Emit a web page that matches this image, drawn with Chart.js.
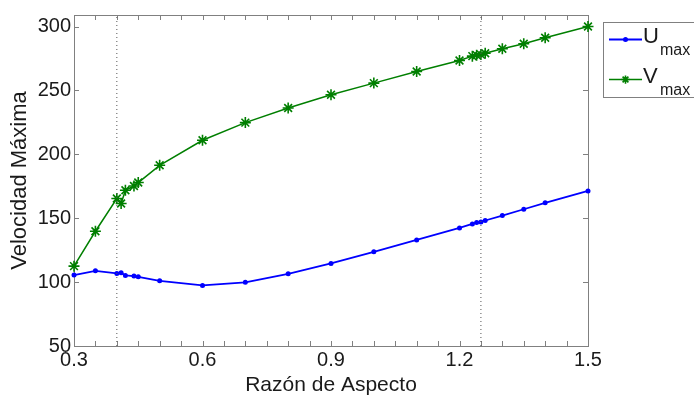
<!DOCTYPE html>
<html>
<head>
<meta charset="utf-8">
<script src="https://cdn.jsdelivr.net/npm/chart.js@4.4.1/dist/chart.umd.min.js"></script>
<style>
  html, body { margin: 0; padding: 0; background: #fff; }
  #canvas { display: block; }
</style>
</head>
<body>
<canvas id="canvas" width="694" height="398"></canvas>
<script>
// Razon de aspecto (eje x)
const aspect = [0.3, 0.35, 0.4, 0.41, 0.42, 0.44, 0.45, 0.5, 0.6, 0.7, 0.8, 0.9, 1.0, 1.1,
                1.2, 1.23, 1.24, 1.25, 1.26, 1.3, 1.35, 1.4, 1.5];
// Velocidad maxima U
const uMax = [105.5, 108.8, 106.8, 107.3, 105.2, 104.7, 104.1, 101, 97.4, 99.8, 106.5, 114.6, 123.7, 133,
              142.4, 145.5, 146.6, 147.1, 148.2, 152.1, 157, 162, 171.3];
// Velocidad maxima V
const vMax = [112.5, 139.8, 165.4, 161.5, 171.9, 175.2, 177.9, 191.4, 211, 224.8, 236.2, 246.6, 255.7, 264.8,
              273.4, 276.8, 277.6, 278, 279.1, 282.6, 286.5, 291.2, 300];
// lineas verticales punteadas
const refLines = [0.4, 1.25];
// ejes
const xMin = 0.3, xMax = 1.5, xStep = 0.05, xLabelStep = 0.3;
const yMin = 50, yMax = 309, yStep = 50;

const axisColor = '#808080';
const textColor = '#1a1a1a';
const fontName = "'Liberation Sans', Arial, sans-serif";

function toPoints(xs, ys) {
  return xs.map((x, i) => ({x: x, y: ys[i]}));
}

let datasets = [];
refLines.forEach(function(x) {
  datasets.push({
    data: [{x: x, y: yMin}, {x: x, y: yMax}],
    borderColor: '#555',
    borderWidth: 1,
    borderDash: [1, 3],
    pointRadius: 0,
    fill: false
  });
});
datasets.push({
  label: 'Umax',
  data: toPoints(aspect, uMax),
  borderColor: '#0000ff',
  backgroundColor: '#0000ff',
  borderWidth: 1.8,
  pointStyle: 'circle',
  pointRadius: 2.5,
  pointBorderWidth: 0,
  clip: false,
  fill: false
});
datasets.push({
  label: 'Vmax',
  data: toPoints(aspect, vMax),
  borderColor: '#007f00',
  backgroundColor: '#007f00',
  borderWidth: 1.5,
  pointStyle: 'star',
  pointRadius: 5.5,
  pointBorderWidth: 1.6,
  clip: false,
  fill: false
});

// Marco, marcas hacia adentro, titulos y leyenda
const framePlugin = {
  id: 'frame',
  beforeDatasetsDraw(chart) {
    const c = chart.ctx;
    const a = chart.chartArea;
    const xs = chart.scales.x, ys = chart.scales.y;
    c.save();
    c.strokeStyle = axisColor;
    c.lineWidth = 1;
    c.strokeRect(Math.round(a.left) + 0.5, Math.round(a.top) + 0.5,
                 Math.round(a.right - a.left), Math.round(a.bottom - a.top));
    // marcas
    const tl = 5;
    xs.ticks.forEach(function(t) {
      const px = Math.round(xs.getPixelForValue(t.value)) + 0.5;
      c.beginPath();
      c.moveTo(px, a.bottom); c.lineTo(px, a.bottom - tl);
      c.moveTo(px, a.top); c.lineTo(px, a.top + tl);
      c.stroke();
    });
    ys.ticks.forEach(function(t) {
      const py = Math.round(ys.getPixelForValue(t.value)) + 0.5;
      c.beginPath();
      c.moveTo(a.left, py); c.lineTo(a.left + tl, py);
      c.moveTo(a.right, py); c.lineTo(a.right - tl, py);
      c.stroke();
    });
    c.restore();
  },
  afterDraw(chart) {
    const c = chart.ctx;
    const a = chart.chartArea;
    c.save();
    // titulos de ejes
    c.fillStyle = textColor;
    c.textAlign = 'center';
    c.textBaseline = 'alphabetic';
    c.font = '21px ' + fontName;
    c.fillText('Razón de Aspecto', (a.left + a.right) / 2, 391);
    c.save();
    c.translate(26, (a.top + a.bottom) / 2);
    c.rotate(-Math.PI / 2);
    c.font = '22px ' + fontName;
    c.fillText('Velocidad Máxima', 0, 0);
    c.restore();

    // leyenda
    c.fillStyle = '#fff';
    c.fillRect(603, 22, 95, 75);
    c.strokeStyle = axisColor;
    c.lineWidth = 1;
    c.strokeRect(603.5, 22.5, 95, 75);
    const items = [
      {ds: chart.data.datasets[2], y: 39.5, letter: 'U'},
      {ds: chart.data.datasets[3], y: 79.5, letter: 'V'}
    ];
    items.forEach(function(it) {
      c.strokeStyle = it.ds.borderColor;
      c.lineWidth = it.ds.borderWidth;
      c.beginPath();
      c.moveTo(609, it.y); c.lineTo(642, it.y);
      c.stroke();
      if (it.ds.pointStyle === 'circle') {
        c.fillStyle = it.ds.backgroundColor;
        c.beginPath(); c.arc(625.5, it.y, 2.5, 0, Math.PI * 2); c.fill();
      } else {
        c.lineWidth = it.ds.pointBorderWidth;
        Chart.helpers.drawPoint(c, {
          pointStyle: it.ds.pointStyle,
          radius: it.ds.pointRadius * 0.75,
          borderWidth: it.ds.pointBorderWidth
        }, 625.5, it.y);
      }
      c.fillStyle = textColor;
      c.textAlign = 'left';
      c.font = '22px ' + fontName;
      c.fillText(it.letter, 643, it.y + 3);
      c.font = '16px ' + fontName;
      c.fillText('max', 660, it.y + 15);
    });
    c.restore();
  }
};

const ctx = document.getElementById('canvas').getContext('2d');
const chart = new Chart(ctx, {
  type: 'line',
  data: { datasets: datasets },
  options: {
    responsive: false,
    animation: false,
    devicePixelRatio: 1,
    layout: { padding: { left: 0, right: 106, top: 14, bottom: 0 } },
    plugins: {
      legend: { display: false },
      tooltip: { enabled: false }
    },
    elements: { line: { tension: 0 } },
    scales: {
      x: {
        type: 'linear',
        min: xMin,
        max: xMax,
        grid: { display: false, drawTicks: false },
        border: { display: false },
        afterFit(scale) { scale.height = 52; },
        ticks: {
          stepSize: xStep,
          autoSkip: false,
          maxRotation: 0,
          padding: 2,
          color: textColor,
          font: { family: fontName, size: 20 },
          callback(v) {
            const k = v / xLabelStep;
            if (Math.abs(k - Math.round(k)) < 1e-6) return v.toFixed(1);
            return '';
          }
        }
      },
      y: {
        type: 'linear',
        min: yMin,
        max: yMax,
        grid: { display: false, drawTicks: false },
        border: { display: false },
        afterFit(scale) { scale.width = 74; },
        ticks: {
          stepSize: yStep,
          includeBounds: false,
          padding: 3,
          color: textColor,
          font: { family: fontName, size: 20 }
        }
      }
    }
  },
  plugins: [framePlugin]
});
</script>
</body>
</html>
